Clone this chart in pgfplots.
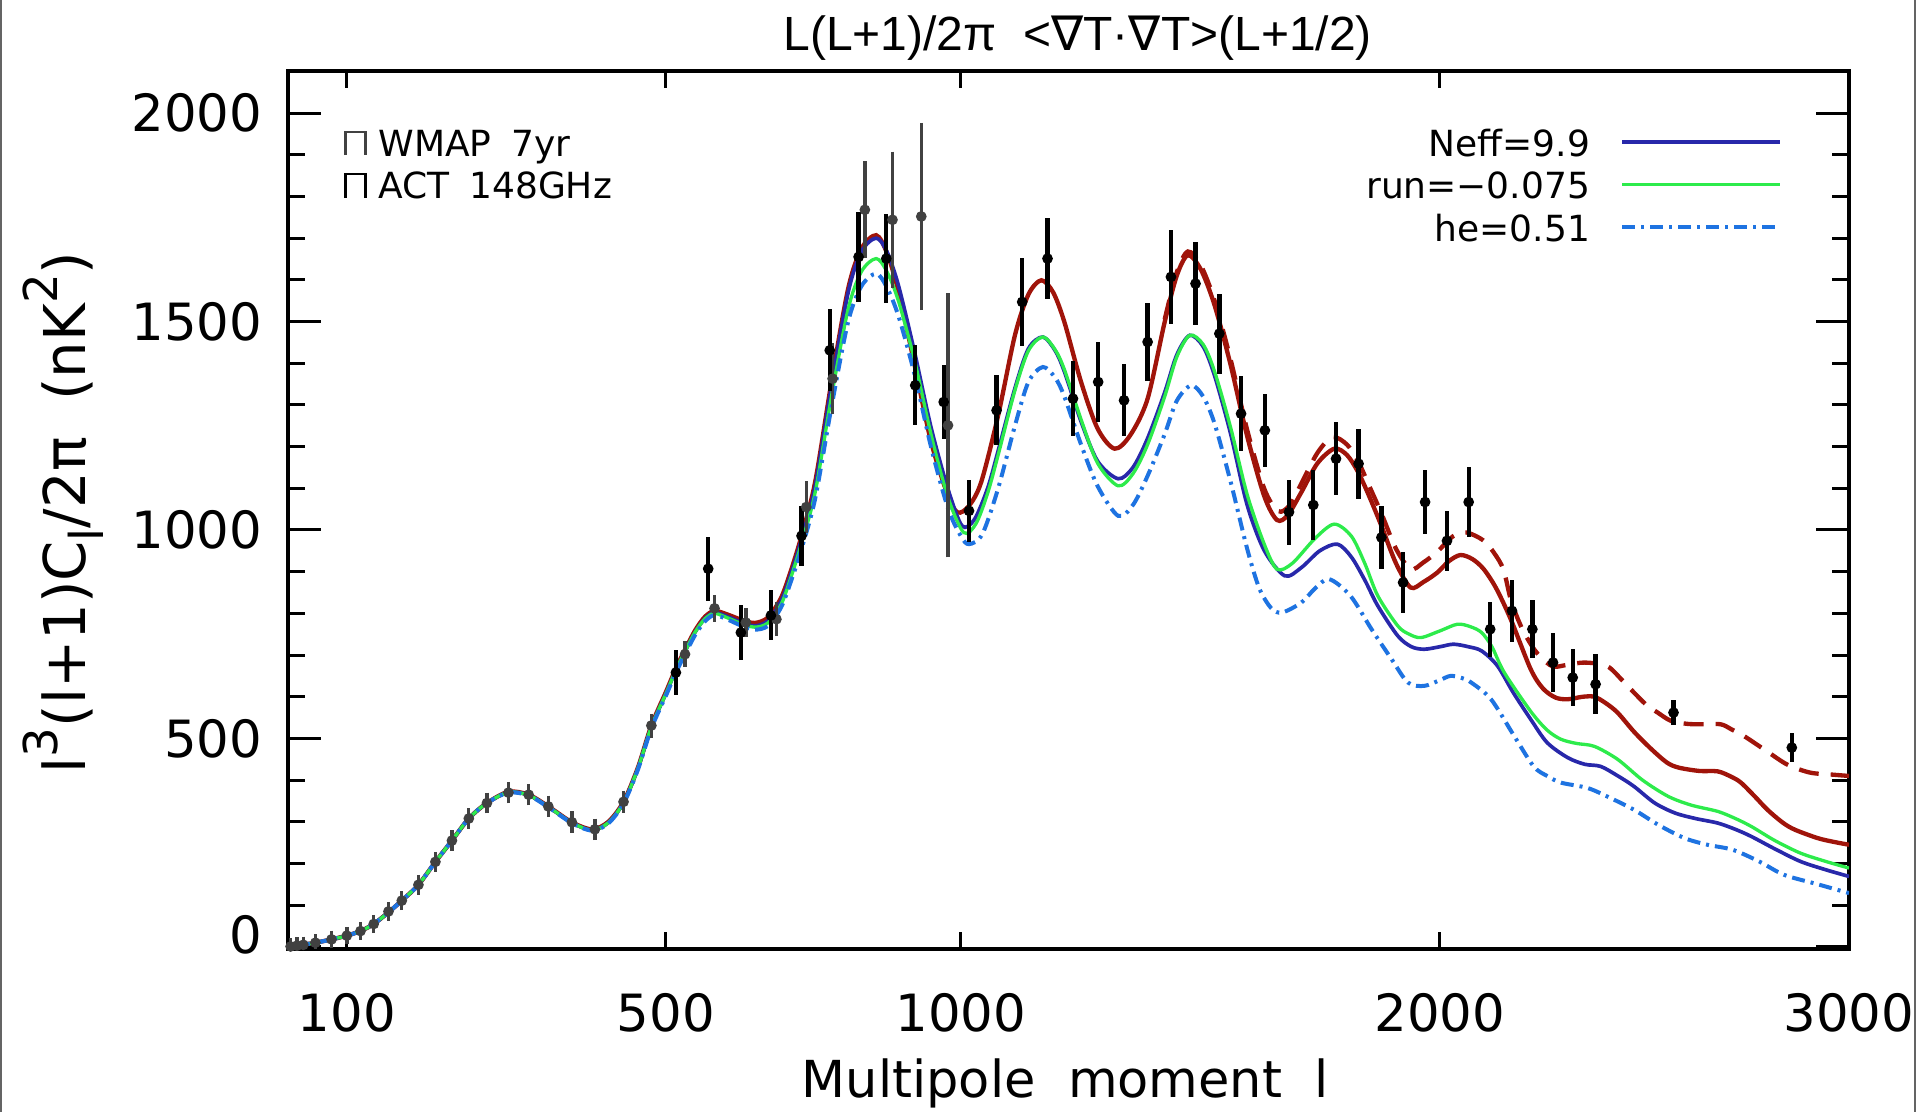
\documentclass[border=0pt]{standalone}
\usepackage{fontspec}
\setmainfont{DejaVu Sans}
\newfontfamily\titlefont{Liberation Sans}
\usepackage{pgfplots}
\usepackage{pgfplotstable}
\pgfplotsset{compat=1.18}

\definecolor{fidred}{RGB}{160,20,10}
\definecolor{neffblue}{RGB}{40,40,170}
\definecolor{rungreen}{RGB}{45,235,75}
\definecolor{heblue}{RGB}{30,115,225}
\definecolor{wmapgray}{RGB}{65,65,65}
\definecolor{framegray}{RGB}{100,100,100}

% fiducial model
\pgfplotstableread{
l v
50 0
55 2
61 5
72 10
86 18
100 27
113 38
126 55
141 83
155 111
173 149
192 204
211 255
231 308
253 345
280 372
306 365
332 337
364 299
392 282
415 300
437 348
458 430
478 531
500 612
515 668
530 716
545 760
560 792
575 806
596 797
617 785
639 777
661 790
683 838
700 906
717 986
740 1115
768 1355
797 1579
820 1675
846 1707
865 1665
886 1571
915 1395
945 1211
976 1082
994 1042
1015 1058
1038 1115
1070 1275
1102 1467
1128 1565
1153 1599
1176 1570
1198 1499
1231 1355
1264 1243
1298 1195
1330 1228
1365 1315
1400 1499
1425 1610
1448 1659
1475 1625
1504 1539
1538 1395
1573 1225
1610 1080
1637 1024
1660 1035
1690 1091
1725 1160
1762 1195
1790 1180
1815 1139
1840 1080
1867 1010
1900 920
1933 862
1962 875
1994 898
2020 925
2047 940
2075 930
2101 906
2130 860
2164 786
2211 666
2240 620
2270 598
2299 594
2335 600
2363 600
2390 585
2419 562
2460 515
2502 474
2540 442
2569 430
2620 422
2666 421
2700 408
2724 394
2760 360
2791 329
2830 298
2861 281
2919 261
2960 252
3000 245
}\fiducial

% fiducial model plus secondary signal
\pgfplotstableread{
l v
1400 1505
1425 1618
1448 1668
1475 1635
1504 1550
1538 1408
1573 1240
1610 1098
1640 1045
1665 1060
1690 1112
1725 1185
1758 1223
1790 1205
1815 1165
1840 1105
1867 1040
1900 955
1933 906
1962 922
1994 948
2030 985
2061 994
2100 975
2125 945
2147 905
2165 830
2190 765
2219 714
2245 685
2267 672
2300 677
2340 682
2393 674
2430 640
2459 610
2490 580
2517 562
2550 542
2590 535
2624 534
2673 534
2700 522
2733 505
2790 469
2842 437
2900 418
2960 413
3000 410
}\fidfg

% Neff = 9.9
\pgfplotstableread{
l v
50 0
55 2
61 5
72 10
86 18
100 27
113 38
126 55
141 83
155 111
173 149
192 204
211 255
231 308
253 345
280 371
306 364
332 336
364 298
392 280
415 298
437 346
458 428
478 528
500 608
515 664
530 712
545 756
560 788
575 802
596 792
617 779
639 770
661 782
683 830
700 898
717 978
740 1105
768 1345
797 1570
820 1668
846 1700
865 1668
886 1585
915 1425
945 1245
976 1098
1002 1010
1025 1025
1050 1100
1070 1190
1102 1340
1128 1435
1156 1463
1180 1430
1198 1380
1231 1260
1264 1165
1305 1123
1335 1150
1365 1220
1400 1330
1425 1420
1452 1467
1480 1440
1504 1370
1538 1230
1573 1060
1610 950
1654 890
1690 910
1730 950
1769 966
1800 935
1830 880
1859 818
1904 746
1935 720
1964 714
2000 720
2031 726
2065 720
2096 710
2133 674
2170 610
2211 546
2250 490
2299 454
2340 438
2378 433
2420 410
2459 385
2510 345
2560 321
2610 308
2666 297
2710 282
2750 265
2810 235
2875 205
2940 185
3000 169
}\neff

% running index -0.075
\pgfplotstableread{
l v
50 0
55 2
61 5
72 10
86 18
100 27
113 38
126 55
141 83
155 111
173 149
192 204
211 255
231 308
253 345
280 371
306 364
332 336
364 298
392 280
415 298
437 346
458 428
478 528
500 608
515 664
530 712
545 756
560 787
575 800
596 789
617 776
639 767
661 777
683 822
700 890
717 968
740 1090
768 1320
797 1530
820 1620
846 1651
865 1620
886 1548
915 1405
945 1228
976 1078
1005 994
1028 1015
1050 1088
1070 1180
1102 1335
1128 1430
1156 1463
1180 1432
1198 1385
1231 1265
1264 1160
1305 1106
1335 1135
1365 1205
1400 1320
1425 1415
1452 1467
1480 1445
1504 1380
1538 1245
1573 1085
1610 965
1637 906
1670 920
1720 980
1762 1014
1800 985
1830 920
1859 842
1904 770
1930 750
1957 742
2000 758
2040 774
2070 768
2096 754
2120 720
2149 658
2211 565
2250 520
2283 498
2320 488
2363 481
2419 450
2480 400
2543 361
2600 340
2666 325
2710 308
2750 289
2810 255
2875 225
2940 205
3000 189
}\running

% helium fraction 0.51
\pgfplotstableread{
l v
50 0
55 2
61 5
72 10
86 18
100 27
113 38
126 55
141 83
155 111
173 149
192 204
211 255
231 308
253 345
280 370
306 363
332 335
364 297
392 279
415 296
437 344
458 425
478 524
500 603
515 658
530 705
545 749
560 781
575 796
596 785
617 771
639 761
661 770
683 815
700 880
717 955
740 1075
768 1295
797 1500
820 1585
846 1615
865 1582
886 1512
915 1372
945 1198
976 1052
1000 985
1015 966
1040 990
1070 1100
1102 1250
1128 1355
1156 1391
1180 1365
1198 1320
1231 1205
1264 1105
1305 1034
1335 1060
1365 1130
1400 1230
1425 1310
1455 1347
1480 1320
1504 1255
1538 1115
1573 955
1599 860
1625 812
1648 802
1690 826
1720 860
1751 882
1798 842
1845 762
1890 690
1927 634
1964 626
2000 640
2024 650
2050 645
2072 634
2118 594
2172 506
2218 433
2250 410
2283 394
2347 381
2400 358
2459 329
2520 292
2583 261
2640 245
2703 233
2770 205
2833 173
2920 150
3000 129
}\helium

% WMAP 7-year band powers
\pgfplotstableread{
l v e
52 1 3
57 3 3
62 5 3
72 10 3
86 18 4
100 27 4
113 38 5
126 55 5
141 85 6
155 111 6
173 149 7
192 204 7
211 255 8
231 308 8
253 345 8
280 370 9
306 365 9
332 337 9
364 299 9
396 282 9
437 348 10
478 531 12
529 702 14
575 812 15
625 778 18
675 786 24
725 1055 45
770 1363 68
826 1768 100
875 1744 147
927 1752 208
976 1251 300
}\wmap

% ACT 148 GHz band powers
\pgfplotstableread{
l v e
515 658 54
565 907 77
617 754 66
666 795 60
717 986 72
765 1431 98
815 1655 108
864 1651 106
916 1347 96
968 1307 88
1015 1046 74
1067 1287 84
1116 1547 106
1165 1651 98
1215 1315 90
1265 1355 96
1317 1311 86
1365 1451 94
1413 1607 112
1464 1591 100
1514 1471 96
1560 1279 90
1611 1239 88
1663 1043 78
1716 1060 85
1766 1171 88
1816 1159 84
1867 982 75
1916 874 74
1966 1067 77
2016 974 72
2066 1067 85
2116 762 66
2167 806 74
2215 762 70
2264 682 70
2311 646 68
2366 630 72
2556 562 30
2853 478 34
}\act

\newcommand\tickfont{\fontsize{15.4}{18}\selectfont}
\newcommand\legfont{\fontsize{10.8}{12}\selectfont}
\newcommand\labsup[1]{\raisebox{0.5em}{\fontsize{14}{16}\selectfont #1}}
\newcommand\labsub[1]{\raisebox{-0.3em}{\fontsize{14}{16}\selectfont #1}}

\begin{document}
\begin{tikzpicture}
\useasboundingbox (-86.4pt,-48.9pt) rectangle (489.6pt,284.7pt);

% page frame
\draw[framegray, line width=0.6pt] (-86.1pt,-48.9pt) -- (-86.1pt,284.7pt);
\draw[framegray, line width=0.6pt] (488.1pt,-48.9pt) -- (488.1pt,284.7pt);

\begin{axis}[
  at={(0pt,0pt)}, anchor=south west,
  scale only axis, width=468.3pt, height=263.4pt,
  xmin=50, xmax=3000, ymin=-5, ymax=2101,
  x coord trafo/.code={\pgfmathparse{(#1)^0.7}},
  x coord inv trafo/.code={\pgfmathparse{(#1)^(1/0.7)}},
  xtick={100,500,1000,2000,3000},
  xticklabels={100,500,1000,2000,3000},
  minor xtick={100,500,1000,2000},
  every major x tick/.append style={draw=none},
  ytick={0,500,1000,1500,2000},
  yticklabels={\raisebox{7.4pt}{0},500,1000,1500,2000},
  minor y tick num=4,
  major tick length=9.8pt, minor tick length=5pt,
  tick align=inside,
  tick style={black, line width=0.9pt},
  axis line style={line width=1.1pt},
  ticklabel style={font=\tickfont, inner sep=0pt},
  xticklabel style={anchor=base, yshift=-24.9pt},
  yticklabel style={anchor=east, xshift=-7.5pt},
  legend style={at={(rel axis cs:0.9571,0.9328)}, anchor=north east,
    draw=none, fill=none, inner sep=0pt, outer sep=0pt,
    row sep=4.85pt, font=\legfont,
    nodes={inner sep=0pt, text height=7.9pt, text depth=0pt},
    /tikz/every odd column/.append style={column sep=9pt}},
  legend plot pos=right,
  legend cell align=right,
  legend image code/.code={\draw[#1] (0pt,0.35pt) -- (47.4pt,0.35pt);},
]
\addplot[fidred, line width=1.3pt, mark=none, smooth, forget plot] table[x=l, y=v] {\fiducial};
\addplot[fidred, line width=1.3pt, mark=none, smooth, dash pattern=on 6pt off 3.6pt, forget plot] table[x=l, y=v] {\fidfg};
\addplot[neffblue, line width=1.1pt, mark=none, smooth] table[x=l, y=v] {\neff};
\addlegendentry{Neff=9.9}
\addplot[rungreen, line width=1.0pt, mark=none, smooth] table[x=l, y=v] {\running};
\addlegendentry{run=−0.075}
\addplot[heblue, line width=1.2pt, mark=none, smooth, dash pattern=on 3.9pt off 1.8pt on 0.9pt off 1.8pt] table[x=l, y=v] {\helium};
\addlegendentry{he=0.51}

\addplot[wmapgray, only marks, mark=*, mark size=1.4pt, forget plot,
  error bars/.cd, y dir=both, y explicit,
  error bar style={line width=1.0pt, wmapgray},
  error mark options={mark size=2.1pt, line width=1.0pt, wmapgray}]
  table[x=l, y=v, y error=e] {\wmap};
\addplot[black, only marks, mark=*, mark size=1.4pt, forget plot,
  error bars/.cd, y dir=both, y explicit, error mark=none,
  error bar style={line width=1.3pt, black}]
  table[x=l, y=v, y error=e] {\act};
\end{axis}

% data legend
\begin{axis}[
  at={(0pt,0pt)}, anchor=south west,
  scale only axis, width=468.3pt, height=263.4pt,
  hide axis, xmin=0, xmax=1, ymin=0, ymax=1,
  legend style={at={(rel axis cs:0.0362,0.9328)}, anchor=north west,
    draw=none, fill=none, inner sep=0pt, outer sep=0pt,
    row sep=4.85pt, font=\legfont,
    nodes={inner sep=0pt, text height=7.9pt, text depth=0pt},
    /tikz/every odd column/.append style={column sep=3.5pt}},
  legend cell align=left,
  legend image code/.code={\draw[#1] (0pt,-3.6pt) -- (0pt,3.4pt) -- (6.0pt,3.4pt) -- (6.0pt,-3.6pt);},
]
\addlegendimage{wmapgray, line width=0.7pt}
\addlegendentry{WMAP\hspace{0.55em}7yr}
\addlegendimage{black, line width=0.7pt}
\addlegendentry{ACT\hspace{0.55em}148GHz}
\end{axis}

% title and axis labels
\node[anchor=base, font=\titlefont\fontsize{14.4}{16}\selectfont]
  at (236.9pt,269.4pt) {L(L+1)/2π\ \ <{\rmfamily ∇}T·{\rmfamily ∇}T>(L+1/2)};
\node[anchor=base, font=\fontsize{15.3}{18}\selectfont]
  at (233.2pt,-44.7pt) {Multipole\ \ moment\ \ l};
\node[anchor=base, rotate=90, font=\fontsize{17.3}{20}\selectfont]
  at (-60.6pt,131.0pt) {l\labsup{3}(l+1)C\labsub{l}/2π\ \ (nK\labsup{2})};
\end{tikzpicture}
\end{document}
